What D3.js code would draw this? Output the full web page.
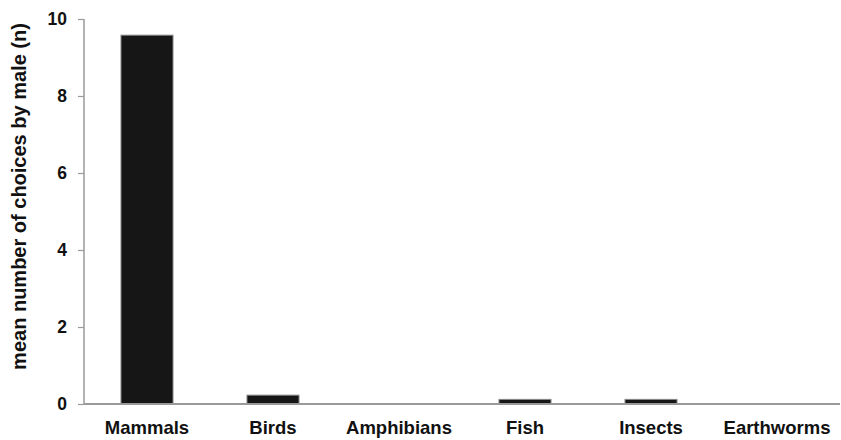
<!DOCTYPE html>
<html>
<head>
<meta charset="utf-8">
<script src="https://cdn.jsdelivr.net/npm/d3@7"></script>
<style>
  body { margin: 0; background: #fff; overflow: hidden; }
  svg { display: block; }
  text { font-family: "Liberation Sans", Arial, sans-serif; font-weight: bold; fill: #111; }
</style>
</head>
<body>
<div id="chart"></div>
<script>
// data
var categories = ["Mammals", "Birds", "Amphibians", "Fish", "Insects", "Earthworms"];
var choices = [9.58, 0.23, 0, 0.12, 0.12, 0];
var yTicks = [0, 2, 4, 6, 8, 10];
var yTitle = "mean number of choices by male (n)";

// dimensions
var margin = {top: 19, right: 1, bottom: 34, left: 84},
    width = 841 - margin.left - margin.right,
    height = 440 - margin.top - margin.bottom;

var svg = d3.select("#chart")
    .append("svg")
        .attr("width", width + margin.left + margin.right)
        .attr("height", height + margin.top + margin.bottom)
    .append("g")
        .attr("transform", "translate(" + margin.left + "," + margin.top + ")");

var x = d3.scaleBand()
    .domain(categories)
    .range([0, width])
    .paddingInner(0.587)
    .paddingOuter(0.587 / 2);

var y = d3.scaleLinear()
    .domain([0, 10])
    .range([height - 2, 0]);

// bars
svg.selectAll(".bar")
    .data(categories)
    .enter().append("rect")
        .attr("class", "bar")
        .attr("x", function(d) { return x(d); })
        .attr("width", x.bandwidth())
        .attr("y", function(d, i) { return y(choices[i]); })
        .attr("height", function(d, i) { return y(0) - y(choices[i]); })
        .style("fill", "#161616")
        .style("stroke", "#8a8a8a")
        .style("stroke-width", 1);

// y axis
var yAxis = svg.append("g")
    .attr("class", "y axis")
    .call(d3.axisLeft(y).tickValues(yTicks).tickSize(6).tickPadding(11).tickFormat(d3.format("d")));
yAxis.select(".domain").attr("stroke", "#9a9a9a").attr("stroke-width", 1.5)
    .attr("d", "M0," + y(10) + "V" + y(0));
yAxis.selectAll(".tick line").attr("stroke", "#9a9a9a").attr("stroke-width", 1.2);
yAxis.selectAll(".tick text").style("font-size", "17.5px").style("font-family", "Liberation Sans, Arial, sans-serif");

// x axis (baseline only, no ticks)
var xAxis = svg.append("g")
    .attr("class", "x axis")
    .attr("transform", "translate(0," + y(0) + ")")
    .call(d3.axisBottom(x).tickSize(0).tickPadding(17));
xAxis.select(".domain").attr("stroke", "#9a9a9a").attr("stroke-width", 2)
    .attr("d", "M0,0H" + width);
xAxis.selectAll(".tick text").style("font-size", "18.5px").style("font-family", "Liberation Sans, Arial, sans-serif");

// text label for the y axis
svg.append("text")
    .attr("transform", "rotate(-90)")
    .attr("x", -(196.5 - margin.top))
    .attr("y", 26 - margin.left)
    .style("text-anchor", "middle")
    .style("font-size", "20px")
    .text(yTitle);
</script>
</body>
</html>
